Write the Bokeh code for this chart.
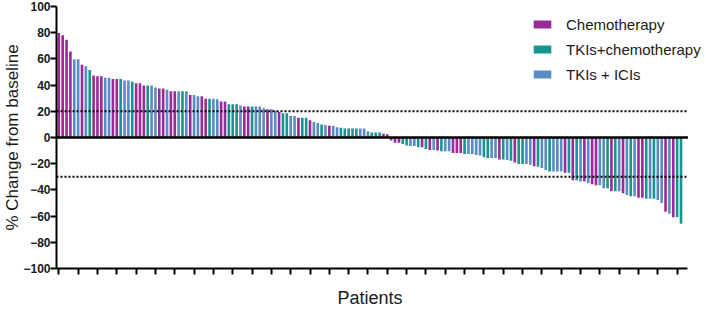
from bokeh.plotting import figure
from bokeh.models import (ColumnDataSource, Legend, LegendItem, FixedTicker, Range1d,
                          Title, LinearAxis)
from bokeh.embed import file_html
from bokeh.resources import INLINE

# ---- data ----
group_names = ["Chemotherapy", "TKIs+chemotherapy", "TKIs + ICIs"]
group_keys = ["P", "T", "B"]
group_colors = ["#9A2A98", "#17968F", "#5A8CC4"]

# % change from baseline per patient (sorted waterfall)
change = [
    79.7, 78.0, 74.6, 65.6, 59.7, 59.7, 55.6, 54.4, 51.5, 47.4,
    46.7, 46.7, 45.6, 45.6, 44.6, 44.6, 44.6, 43.6, 43.6, 42.6,
    41.5, 41.5, 39.7, 39.7, 39.7, 38.2, 37.4, 37.4, 36.4, 35.4,
    35.4, 35.4, 35.4, 35.4, 32.5, 32.5, 31.5, 31.5, 29.5, 29.5,
    29.5, 29.2, 27.4, 27.4, 25.4, 25.4, 25.4, 24.4, 23.6, 23.6,
    23.6, 23.6, 23.6, 22.3, 21.5, 21.5, 20.5, 19.5, 18.5, 18.5,
    16.4, 16.4, 15.1, 15.1, 15.1, 13.1, 11.8, 11.0, 10.0, 9.5,
    9.0, 9.0, 7.9, 7.4, 6.9, 6.9, 6.9, 6.9, 6.9, 6.9,
    4.8, 3.8, 3.8, 3.8, 2.8, 2.5,
    -2.3, -4.0, -4.1, -4.9, -6.2, -6.4, -6.4, -7.4, -7.4, -8.7,
    -9.5, -9.5, -10.0, -10.5, -10.5, -10.5, -11.8, -11.8, -11.8, -12.6,
    -12.6, -12.6, -13.3, -13.8, -15.1, -15.6, -15.6, -15.6, -16.7, -16.7,
    -17.2, -17.7, -19.0, -20.3, -20.3, -20.3, -20.8, -22.0, -22.3, -23.3,
    -24.9, -25.9, -25.9, -25.9, -25.9, -26.9, -26.9, -32.6, -32.6, -33.6,
    -33.6, -34.9, -35.6, -36.4, -36.4, -38.7, -38.7, -41.0, -41.0, -41.0,
    -42.6, -43.8, -44.9, -44.9, -45.9, -45.9, -46.7, -46.7, -46.7, -47.7,
    -50.0, -56.7, -58.2, -60.8, -60.8, -65.9,
]

# treatment group per patient: P = Chemotherapy, T = TKIs+chemotherapy, B = TKIs + ICIs
group = list(
    "PPPPBBPBTP" "PPBBPPTBBT" "PPPTBBPPBP" "PBTBPBBPPT"
    "BBPPTTTBPP" "TBBBPBBPTT" "BBPTTPBBTB" "PBBTTTTTBB"
    "BTTTPP"
    "PPPTTBBTPT" "PBPTBBPPPT" "BBBBTTBBPT" "BTPTTBBPTB"
    "BTBBBPTPTB" "PBPPBBTPTB" "PBTBPPTBTB" "BPBPTT"
)

patients = list(range(1, len(change) + 1))
x_ticks = [1, 6, 11, 16, 21, 26, 31, 36, 41, 46, 51, 56, 61, 66, 71, 76, 81,
           86, 91, 96, 101, 106, 111, 116, 121, 126, 131, 136, 141, 146, 151, 156, 161]
y_ticks = [-100, -80, -60, -40, -20, 0, 20, 40, 60, 80, 100]
ref_lines = [20, -30]

# axis extent (patients) and the visible frame extent (frame runs to the right edge
# so that the legend text is not clipped)
x_axis_start, x_axis_end = 0.4, 163.8
x_view_end = 168.6

# ---- figure ----
p = figure(
    width=706, height=310, output_backend="svg", toolbar_location=None,
    x_range=Range1d(x_axis_start, x_view_end), y_range=Range1d(-100, 100),
    min_border_left=56, min_border_right=0, min_border_top=6, min_border_bottom=42,
)
p.outline_line_color = None
p.grid.visible = False
p.background_fill_color = "white"
p.border_fill_color = "white"

items = []
for key, name, col in zip(group_keys, group_names, group_colors):
    xs = [pt for pt, g in zip(patients, group) if g == key]
    ys = [v for v, g in zip(change, group) if g == key]
    src = ColumnDataSource(dict(x=xs, top=ys))
    r = p.vbar(x="x", top="top", bottom=0, width=0.68, source=src,
               fill_color=col, line_color=None)
    items.append(LegendItem(label=name, renderers=[r]))

# zero line and the +20 / -30 reference lines
p.segment(x0=[x_axis_start], x1=[x_axis_end], y0=[0], y1=[0],
          line_color="black", line_width=2.5)
p.segment(x0=[x_axis_start] * 2, x1=[x_axis_end] * 2, y0=ref_lines, y1=ref_lines,
          line_color="black", line_width=2, line_dash="2 2")

font = "Liberation Sans"

ya = p.yaxis[0]
ya.ticker = FixedTicker(ticks=y_ticks)
ya.axis_line_width = 2
ya.major_tick_line_width = 2
ya.major_tick_out = 6
ya.major_tick_in = 0
ya.minor_tick_out = 0
ya.minor_tick_in = 0
ya.major_label_text_font = font
ya.major_label_text_font_style = "bold"
ya.major_label_text_font_size = "12px"
ya.major_label_text_color = "#1a1a1a"
ya.major_label_standoff = 0
ya.axis_label = "% Change from baseline"
ya.axis_label_text_font = font
ya.axis_label_text_font_style = "normal"
ya.axis_label_text_font_size = "17px"
ya.axis_label_text_color = "#1a1a1a"
ya.axis_label_standoff = -2

xa = p.xaxis[0]
xa.ticker = FixedTicker(ticks=x_ticks)
xa.bounds = (x_axis_start, x_axis_end)
xa.axis_line_width = 2
xa.major_tick_line_width = 2
xa.major_tick_out = 6
xa.major_tick_in = 0
xa.minor_tick_out = 0
xa.minor_tick_in = 0
xa.major_label_overrides = {t: "" for t in x_ticks}
xa.major_label_standoff = 0

# invisible spacer below the x axis (pushes the title down)
spacer = LinearAxis(
    ticker=FixedTicker(ticks=[x_ticks[0]]), bounds=(x_axis_start, x_axis_end),
    axis_line_color=None, major_tick_line_color=None, minor_tick_line_color=None,
    major_tick_out=13, major_tick_in=0, minor_tick_out=0, minor_tick_in=0,
    major_label_standoff=0, major_label_overrides={x_ticks[0]: ""},
)
p.add_layout(spacer, "below")

# x-axis title, centred under the axis line (not under the wider frame)
p.add_layout(Title(
    text="Patients", align="left", offset=281, vertical_align="top", standoff=0,
    text_font=font, text_font_size="18px", text_font_style="normal",
    text_color="#1a1a1a",
), "below")

legend = Legend(
    items=items, location=(475, 184),
    glyph_width=22, glyph_height=10, label_height=20, label_standoff=13,
    spacing=5, padding=0, margin=0,
    label_text_font=font, label_text_font_size="15px", label_text_color="#1a1a1a",
    border_line_color=None, background_fill_alpha=0,
)
p.add_layout(legend)

open("out.html", "w").write(file_html(p, INLINE))
